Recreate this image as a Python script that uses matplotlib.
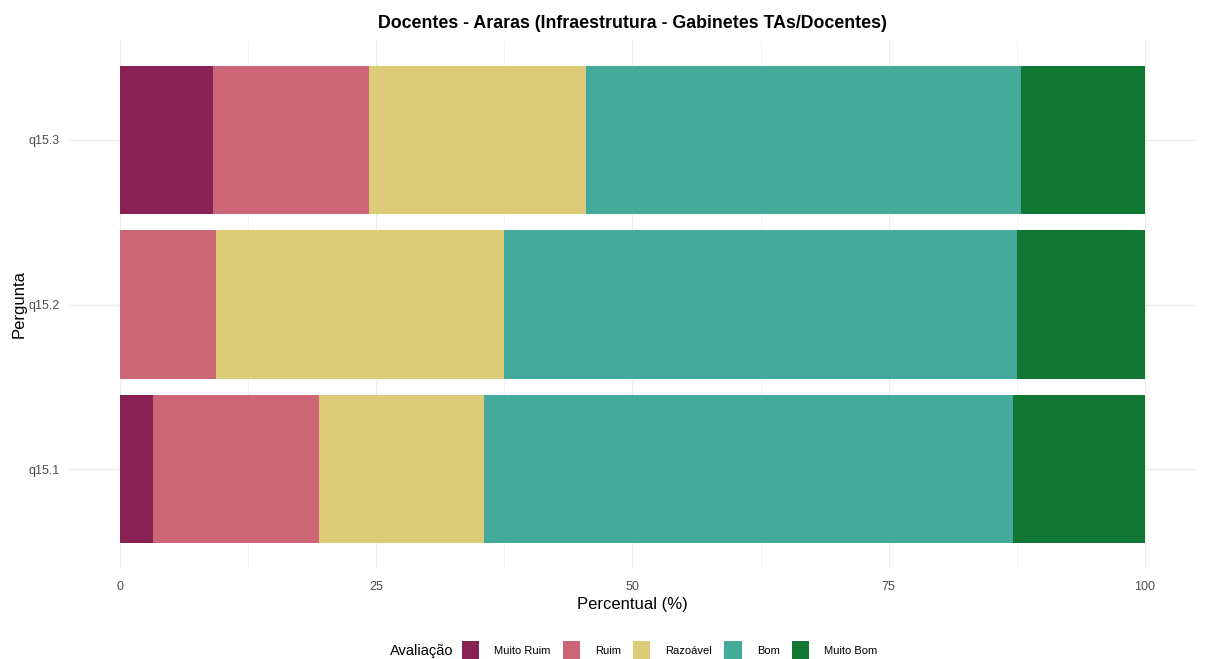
import matplotlib.pyplot as plt
import numpy as np
from matplotlib.patches import Patch

plt.rcParams["font.family"] = ["Liberation Sans", "DejaVu Sans"]

perguntas = ["q15.1", "q15.2", "q15.3"]
categorias = ["Muito Ruim", "Ruim", "Razoável", "Bom", "Muito Bom"]
cores = ["#882255", "#CC6677", "#DDCC77", "#44AA99", "#117733"]

# percentual por pergunta, na ordem das categorias
muito_ruim = [3.23, 0.0, 9.09]
ruim = [16.13, 9.38, 15.15]
razoavel = [16.13, 28.12, 21.21]
bom = [51.61, 50.0, 42.43]
muito_bom = [12.9, 12.5, 12.12]

valores = np.array([muito_ruim, ruim, razoavel, bom, muito_bom])

fig = plt.figure(figsize=(12.1, 6.59), dpi=100)
ax = fig.add_axes([69 / 1210, 1 - 568 / 659, (1196 - 69) / 1210, (568 - 41) / 659])

y = np.arange(len(perguntas))
esquerda = np.zeros(len(perguntas))
for i, cat in enumerate(categorias):
    ax.barh(y, valores[i], left=esquerda, height=0.9, color=cores[i], label=cat, zorder=2)
    esquerda += valores[i]

ax.set_xlim(-5, 105)
ax.set_ylim(-0.6, len(perguntas) - 1 + 0.6)
ax.set_xticks([0, 25, 50, 75, 100])
ax.set_xticks([12.5, 37.5, 62.5, 87.5], minor=True)
ax.set_yticks(y)
ax.set_yticklabels(perguntas)
ax.grid(True, which="major", color="#ebebeb", linewidth=0.9, zorder=0)
ax.grid(True, which="minor", axis="x", color="#f3f3f3", linewidth=0.6, zorder=0)
ax.tick_params(which="both", length=0, labelsize=9, labelcolor="#4d4d4d")
ax.tick_params(axis="x", pad=9)
ax.tick_params(axis="y", pad=7)
for s in ax.spines.values():
    s.set_visible(False)

ax.set_xlabel("Percentual (%)", fontsize=12, labelpad=3)
ax.set_ylabel("Pergunta", fontsize=12, labelpad=1)
ax.set_title("Docentes - Araras (Infraestrutura - Gabinetes TAs/Docentes)",
             fontsize=12.8, fontweight="bold", pad=9)

handles = [Patch(facecolor=c, edgecolor="none") for c in cores]
fig.text(390 / 1210, 1 - 651 / 659, "Avaliação", fontsize=10.5, va="center", ha="left")
fig.legend(handles, categorias, loc="center left", bbox_to_anchor=(462 / 1210, 1 - 650 / 659),
           ncol=5, frameon=False, fontsize=8, handlelength=1.55, handleheight=2.1,
           handletextpad=1.35, columnspacing=1.1, borderpad=0, borderaxespad=0)

fig.savefig("out.png", dpi=100)
